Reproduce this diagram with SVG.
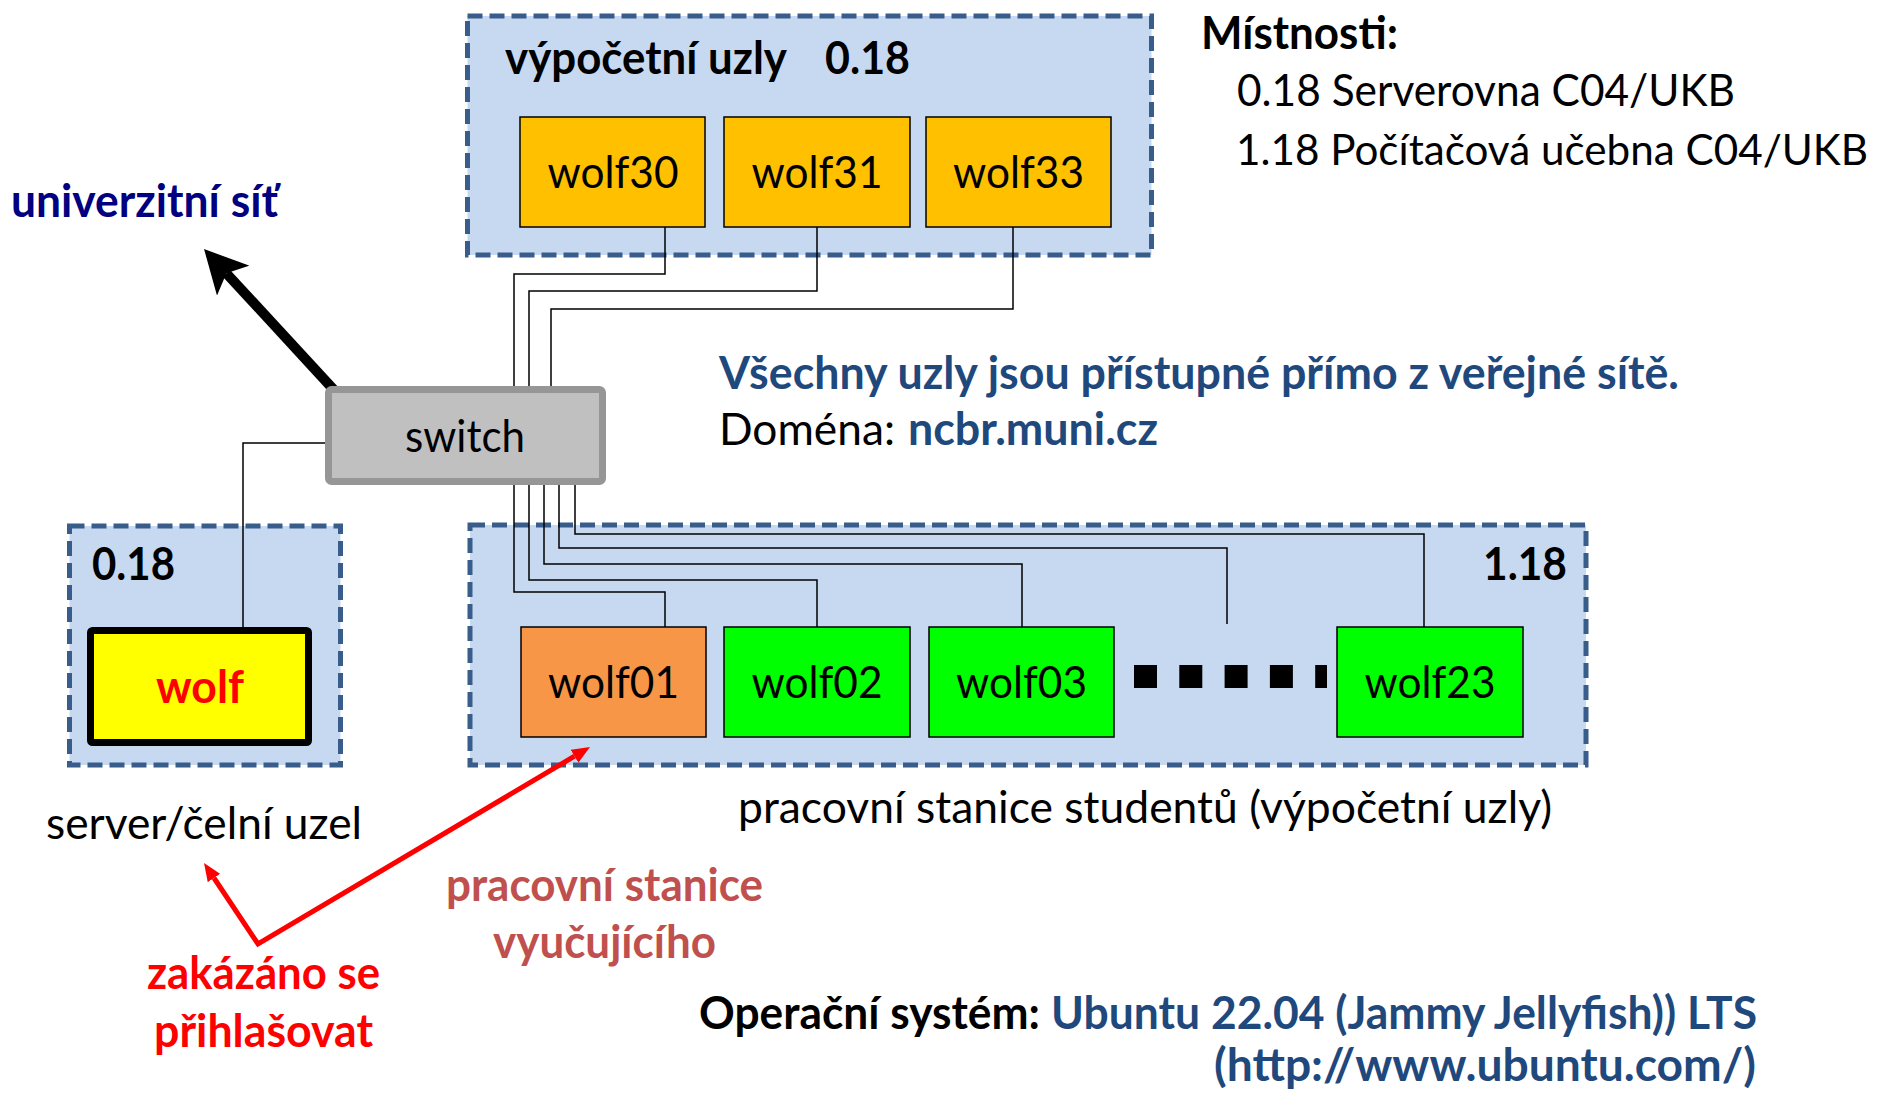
<svg xmlns="http://www.w3.org/2000/svg" width="1884" height="1094" viewBox="0 0 1884 1094">
<defs>
<style>
text{font-family:Lato,"Liberation Sans",sans-serif;font-size:45px;fill:#000}
.b{font-weight:bold}
.mid{text-anchor:middle}
.blue{fill:#1F497D}
.red{fill:#FF0000}
.room{fill:#C6D9F1;stroke:#385D8A;stroke-width:5;stroke-dasharray:15 7}
.node{stroke:#000;stroke-width:1.5}
.orange{fill:#FFC000}
.green{fill:#00FF00}
.wire{fill:none;stroke:#000;stroke-width:1.5}
</style>
<marker id="bigArrow" markerUnits="userSpaceOnUse" viewBox="0 0 43 44" markerWidth="43" markerHeight="44" refX="10" refY="22" orient="auto">
<path d="M0,0 L43,22 L0,44 L10,22 z" fill="#000"/>
</marker>
<marker id="redArrow" markerUnits="userSpaceOnUse" viewBox="0 0 18 15" markerWidth="18" markerHeight="15" refX="0" refY="7.5" orient="auto-start-reverse">
<path d="M0,0 L18,7.5 L0,15 z" fill="#FF0000"/>
</marker>
</defs>
<rect width="1884" height="1094" fill="#fff"/>

<g id="room-compute">
<rect class="room" x="467.5" y="16" width="684" height="239"/>
<text class="b" x="505" y="74" textLength="282" lengthAdjust="spacingAndGlyphs">výpočetní uzly</text>
<text class="b" x="825" y="74" textLength="85" lengthAdjust="spacingAndGlyphs">0.18</text>
</g>
<g id="room-server">
<rect class="room" x="69.5" y="526" width="271" height="239"/>
<text class="b" x="92" y="580" textLength="83" lengthAdjust="spacingAndGlyphs">0.18</text>
</g>
<g id="room-students">
<rect class="room" x="470" y="525" width="1116" height="240"/>
<text class="b" x="1483" y="580" textLength="84" lengthAdjust="spacingAndGlyphs">1.18</text>
</g>

<g id="connectors">
<path class="wire" d="M665,227 V274 H514 V390"/>
<path class="wire" d="M817,227 V291 H529 V390"/>
<path class="wire" d="M1013,227 V309 H551 V390"/>
<path class="wire" d="M514,484 V592 H665 V627"/>
<path class="wire" d="M529,484 V580 H817 V627"/>
<path class="wire" d="M544,484 V564 H1022 V627"/>
<path class="wire" d="M559,484 V548 H1227 V624"/>
<path class="wire" d="M575,484 V534 H1424 V627"/>
<path class="wire" d="M328,443 H243 V627"/>
<path d="M334,390 L226.4,273.3" fill="none" stroke="#000" stroke-width="10" marker-end="url(#bigArrow)"/>
<path d="M214,878 L258,944 L574.5,756.2" fill="none" stroke="#FF0000" stroke-width="5" stroke-linejoin="miter" marker-start="url(#redArrow)" marker-end="url(#redArrow)"/>
<line x1="1134" y1="676.5" x2="1327" y2="676.5" stroke="#000" stroke-width="23" stroke-dasharray="23 22.3"/>
</g>

<g id="switch">
<rect x="328.5" y="389.5" width="274" height="92" rx="3" fill="#C0C0C0" stroke="#969696" stroke-width="7"/>
<text class="mid" x="465" y="452" textLength="120" lengthAdjust="spacingAndGlyphs">switch</text>
</g>

<g id="wolf30">
<rect class="node orange" x="520" y="117" width="185" height="110"/>
<text class="mid" x="613" y="188" textLength="131" lengthAdjust="spacingAndGlyphs">wolf30</text>
</g>
<g id="wolf31">
<rect class="node orange" x="724" y="117" width="186" height="110"/>
<text class="mid" x="817" y="188" textLength="131" lengthAdjust="spacingAndGlyphs">wolf31</text>
</g>
<g id="wolf33">
<rect class="node orange" x="926" y="117" width="185" height="110"/>
<text class="mid" x="1018.5" y="188" textLength="131" lengthAdjust="spacingAndGlyphs">wolf33</text>
</g>

<g id="wolf">
<rect x="90.5" y="630.5" width="218" height="112" rx="2" fill="#FFFF00" stroke="#000" stroke-width="7"/>
<text class="b mid red" x="200" y="703" textLength="88" lengthAdjust="spacingAndGlyphs">wolf</text>
</g>

<g id="wolf01">
<rect class="node" fill="#F79646" x="521" y="627" width="185" height="110"/>
<text class="mid" x="613.5" y="698" textLength="131" lengthAdjust="spacingAndGlyphs">wolf01</text>
</g>
<g id="wolf02">
<rect class="node green" x="724" y="627" width="186" height="110"/>
<text class="mid" x="817" y="698" textLength="131" lengthAdjust="spacingAndGlyphs">wolf02</text>
</g>
<g id="wolf03">
<rect class="node green" x="929" y="627" width="185" height="110"/>
<text class="mid" x="1021.5" y="698" textLength="131" lengthAdjust="spacingAndGlyphs">wolf03</text>
</g>
<g id="wolf23">
<rect class="node green" x="1337" y="627" width="186" height="110"/>
<text class="mid" x="1430" y="698" textLength="131" lengthAdjust="spacingAndGlyphs">wolf23</text>
</g>

<g id="labels">
<text class="b" x="11" y="217" textLength="267" lengthAdjust="spacingAndGlyphs" style="fill:#000080">univerzitní síť</text>
<text class="b" x="1201" y="49" textLength="197" lengthAdjust="spacingAndGlyphs">Místnosti:</text>
<text x="1237" y="106" textLength="498" lengthAdjust="spacingAndGlyphs">0.18 Serverovna C04/UKB</text>
<text x="1236" y="165" textLength="632" lengthAdjust="spacingAndGlyphs" style="font-size:42px">1.18 Počítačová učebna C04/UKB</text>
<text class="b blue" x="719" y="389" textLength="960" lengthAdjust="spacingAndGlyphs">Všechny uzly jsou přístupné přímo z veřejné sítě.</text>
<text x="719" y="445" textLength="176" lengthAdjust="spacingAndGlyphs">Doména:</text>
<text class="b blue" x="908" y="445" textLength="250" lengthAdjust="spacingAndGlyphs">ncbr.muni.cz</text>
<text x="46" y="839" textLength="316" lengthAdjust="spacingAndGlyphs">server/čelní uzel</text>
<text x="738" y="823" textLength="814" lengthAdjust="spacingAndGlyphs">pracovní stanice studentů (výpočetní uzly)</text>
<text class="b" x="446" y="901" textLength="317" lengthAdjust="spacingAndGlyphs" style="fill:#C0504D">pracovní stanice</text>
<text class="b" x="493" y="958" textLength="223" lengthAdjust="spacingAndGlyphs" style="fill:#C0504D">vyučujícího</text>
<text class="b red" x="147" y="989" textLength="233" lengthAdjust="spacingAndGlyphs">zakázáno se</text>
<text class="b red" x="154" y="1047" textLength="219" lengthAdjust="spacingAndGlyphs">přihlašovat</text>
<text class="b" x="699" y="1029" textLength="341" lengthAdjust="spacingAndGlyphs">Operační systém:</text>
<text class="b blue" x="1051" y="1029" textLength="706" lengthAdjust="spacingAndGlyphs">Ubuntu 22.04 (Jammy Jellyfish)) LTS</text>
<text class="b blue" x="1214" y="1081" textLength="542" lengthAdjust="spacingAndGlyphs">(http://www.ubuntu.com/)</text>
</g>
</svg>
